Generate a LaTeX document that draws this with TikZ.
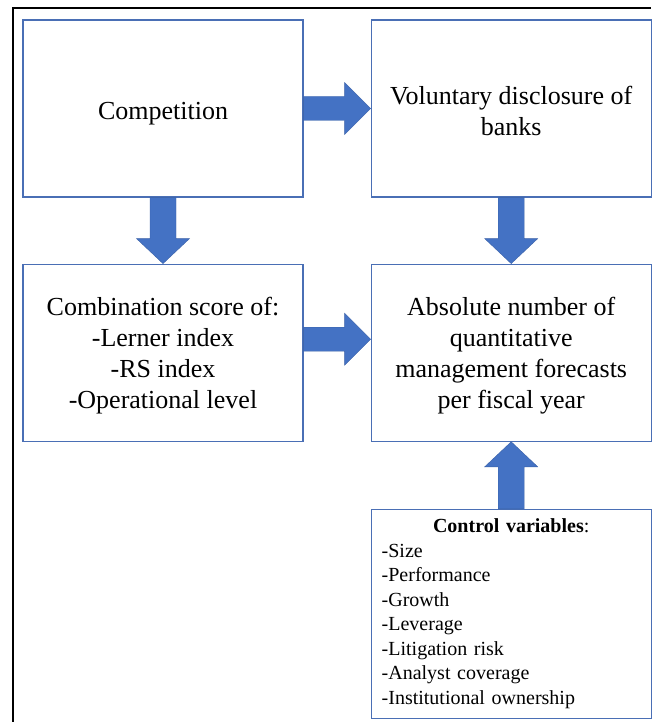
\documentclass[tikz,border=0pt]{standalone}
\usepackage{fontspec}
\setmainfont{Liberation Serif}
\usetikzlibrary{positioning,calc}
\definecolor{bdr}{HTML}{4A6FB5}
\definecolor{arr}{HTML}{4472C4}

\begin{document}
\begin{tikzpicture}[x=1pt,y=-1pt,node distance=67pt,
      box/.style={draw=bdr,line width=1.2pt,fill=white,minimum width=280pt,
        minimum height=177pt},
      txt/.style={align=center,inner sep=0pt,font=\fontsize{26}{31}\selectfont},
      blk/.style={fill=arr,draw=arr!85!black,line width=0.4pt}]
    \useasboundingbox (0,0) rectangle (651,722);
    \draw[line width=2pt] (13,722) -- (13,8) -- (651,8);
    \node[box](comp) at (163,108.5){};
    \node[box,right=67pt of comp](vol){};
    \node[box,below=66pt of comp](comb){};
    \node[box,below=66pt of vol](absn){};
    \node[box,below=67pt of absn,minimum height=209pt](ctrl){};
    \node[txt](compt) at ([yshift=-5pt]comp.center){Competition};
    \node[txt](volt) at ([yshift=-2pt]vol.center){Voluntary disclosure of\\ banks};
    \node[txt](combt) at ([yshift=-3pt]comb.center){Combination score of:\\
      -Lerner index\\ -RS index\\ -Operational level};
    \node[txt](absnt) at ([yshift=-3pt]absn.center){Absolute number of\\
      quantitative\\ management forecasts\\ per fiscal year};
    \node[txt,text width=259pt,align=left,font=\fontsize{20}{24.5}\selectfont](ctrlt)
      at (ctrl.center){\makebox[\linewidth]{\textbf{Control variables}:}\\ -Size\\
      -Performance\\ -Growth\\ -Leverage\\ -Litigation risk\\ -Analyst coverage\\
      -Institutional ownership};
    % block arrows, left to right
    \foreach \s/\t/\dy in {comp.east/vol.west/0,comb.east/absn.west/-13.5}{
      \draw[blk] ($(\s)+(0,\dy-12)$) -- ($(\t)+(-26,\dy-12)$) -- ($(\t)+(-26,\dy-26)$)
        -- ($(\t)+(0,\dy)$) -- ($(\t)+(-26,\dy+26)$) -- ($(\t)+(-26,\dy+12)$)
        -- ($(\s)+(0,\dy+12)$) -- cycle;}
    % block arrows, up and down
    \foreach \s/\t/\d in {comp.south/comb.north/1,vol.south/absn.north/1,
        ctrl.north/absn.south/-1}{
      \draw[blk] ($(\s)+(-13,0)$) -- ($(\t)+(-13,-25*\d)$) -- ($(\t)+(-26.5,-25*\d)$)
        -- (\t) -- ($(\t)+(26.5,-25*\d)$) -- ($(\t)+(13,-25*\d)$)
        -- ($(\s)+(13,0)$) -- cycle;}
  \end{tikzpicture}
\end{document}
